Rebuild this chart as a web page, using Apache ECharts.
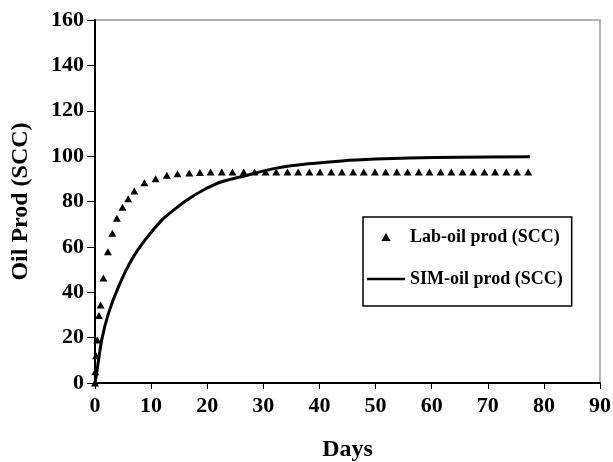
<!DOCTYPE html>
<html>
<head>
<meta charset="utf-8">
<script src="https://cdn.jsdelivr.net/npm/echarts@6/dist/echarts.min.js"></script>
<style>
  html, body { margin: 0; padding: 0; background: #fff; }
  #chart { width: 613px; height: 462px; }
</style>
</head>
<body>
<div id="chart"></div>
<script>
// lab measurements (triangles)
var labDays = [0, 0.05, 0.2, 0.4, 0.7, 1.0, 1.5, 2.3, 3.1, 3.9, 4.9, 5.9, 7.0, 8.8, 10.8, 12.8, 14.7,
  16.8, 18.7, 20.6, 22.6, 24.5, 26.5, 28.4, 30.4, 32.3, 34.3, 36.2, 38.2, 40.1, 42.1, 44.0, 46.0,
  47.9, 49.9, 51.8, 53.8, 55.7, 57.7, 59.6, 61.6, 63.5, 65.5, 67.4, 69.4, 71.3, 73.3, 75.2, 77.2];
var labOil = [0, 5, 12, 19, 29.7, 34.4, 46.3, 57.8, 66, 72.6, 77.5, 81.2, 84.6, 88.3, 90, 91.6, 92.2,
  92.6, 92.8, 93, 93, 93, 93, 93, 93, 93, 93, 93, 93, 93, 93, 93, 93,
  93, 93, 93, 93, 93, 93, 93, 93, 93, 93, 93, 93, 93, 93, 93, 93];

// simulation (solid line)
var simDays = [0, 0.3, 1.2, 2.4, 4.2, 6.5, 8.9, 11.9, 14, 16.6, 19.5, 22.6, 27.3, 32.1, 38, 44, 50, 56, 65, 77.5];
var simOil = [0, 4.5, 19, 30.7, 42.5, 54.2, 63, 71.8, 76.2, 81, 85.3, 88.7, 91.7, 94.6, 96.6, 97.9, 98.7, 99.2, 99.5, 99.7];

var xTicks = [0, 90, 10];   // min, max, step
var yTicks = [0, 160, 20];

var font = "'Liberation Serif', 'Times New Roman', serif";

var chart = echarts.init(document.getElementById('chart'));
chart.setOption({
  backgroundColor: '#fff',
  animation: false,
  grid: {
    left: 95, right: 13, top: 20, bottom: 79,
    outerBoundsMode: 'none',
    show: true,
    borderColor: '#999',
    borderWidth: 1.5
  },
  legend: {
    left: 363, top: 217,
    orient: 'vertical',
    itemWidth: 38, itemHeight: 8,
    itemGap: 24,
    padding: [11, 9, 18, 4],
    borderColor: '#000',
    borderWidth: 1.5,
    backgroundColor: '#fff',
    textStyle: { fontFamily: font, fontWeight: 'bold', fontSize: 18, color: '#000' },
    data: [
      { name: 'Lab-oil prod (SCC)', icon: 'path://M4,0L8,7L0,7Z' },
      { name: 'SIM-oil prod (SCC)', icon: 'path://M0,0H38V2.5H0Z' }
    ]
  },
  xAxis: {
    type: 'value',
    min: xTicks[0], max: xTicks[1], interval: xTicks[2],
    name: 'Days',
    nameLocation: 'middle',
    nameGap: 55,
    nameTextStyle: { fontFamily: font, fontWeight: 'bold', fontSize: 24, color: '#000' },
    axisLine: { show: true, onZero: false, lineStyle: { color: '#000', width: 2 } },
    axisTick: { show: true, length: 6, lineStyle: { color: '#000', width: 1 } },
    axisLabel: { fontFamily: font, fontWeight: 'bold', fontSize: 22, color: '#000', margin: 12 },
    splitLine: { show: false }
  },
  yAxis: {
    type: 'value',
    min: yTicks[0], max: yTicks[1], interval: yTicks[2],
    name: 'Oil Prod (SCC)',
    nameLocation: 'middle',
    nameGap: 62,
    nameTextStyle: { fontFamily: font, fontWeight: 'bold', fontSize: 24, color: '#000' },
    axisLine: { show: true, onZero: false, lineStyle: { color: '#000', width: 2 } },
    axisTick: { show: true, length: 8, lineStyle: { color: '#000', width: 1 } },
    axisLabel: { fontFamily: font, fontWeight: 'bold', fontSize: 22, color: '#000', margin: 11 },
    splitLine: { show: false }
  },
  series: [
    {
      name: 'Lab-oil prod (SCC)',
      type: 'scatter',
      symbol: 'triangle',
      symbolSize: [8, 7],
      itemStyle: { color: '#000', opacity: 1 },
      data: labDays.map(function (d, i) { return [d, labOil[i]]; }),
      z: 3
    },
    {
      name: 'SIM-oil prod (SCC)',
      type: 'line',
      smooth: 0.3,
      showSymbol: false,
      symbol: 'none',
      lineStyle: { color: '#000', width: 3 },
      itemStyle: { color: '#000' },
      data: simDays.map(function (d, i) { return [d, simOil[i]]; }),
      z: 4
    }
  ]
});
</script>
</body>
</html>
